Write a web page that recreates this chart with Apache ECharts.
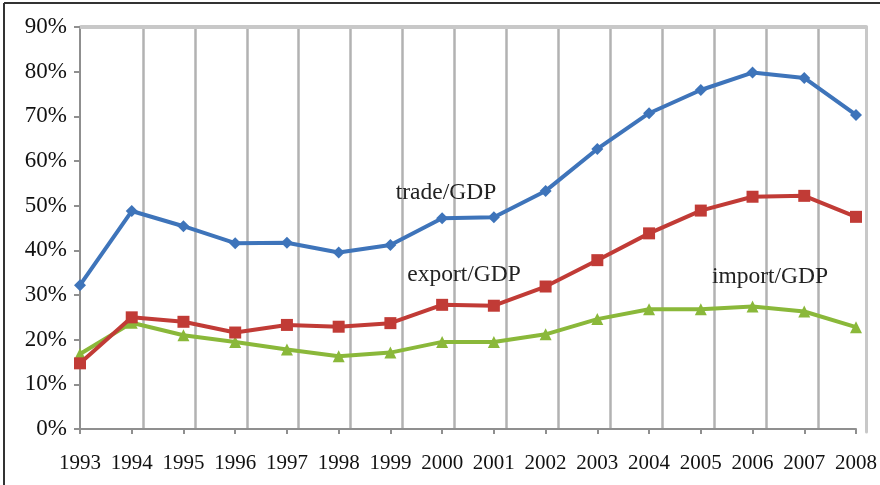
<!DOCTYPE html>
<html>
<head>
<meta charset="utf-8">
<script src="https://cdn.jsdelivr.net/npm/echarts@6/dist/echarts.min.js"></script>
<style>
html,body{margin:0;padding:0;background:#fff;}
#chart{width:880px;height:485px;}
</style>
</head>
<body>
<div id="chart"></div>
<script>
var years = ['1993','1994','1995','1996','1997','1998','1999','2000','2001','2002','2003','2004','2005','2006','2007','2008'];
var tradeGDP  = [32.2, 48.8, 45.4, 41.6, 41.7, 39.5, 41.2, 47.2, 47.4, 53.3, 62.7, 70.7, 75.9, 79.8, 78.6, 70.3];
var exportGDP = [14.7, 25.0, 24.0, 21.6, 23.3, 22.9, 23.7, 27.8, 27.6, 31.9, 37.8, 43.8, 48.9, 52.0, 52.2, 47.5];
var importGDP = [16.8, 23.8, 21.0, 19.5, 17.8, 16.3, 17.1, 19.5, 19.5, 21.2, 24.6, 26.8, 26.8, 27.4, 26.3, 22.8];
var yTicks = { min: 0, max: 90, interval: 10 };
var seriesNames = ['trade/GDP', 'export/GDP', 'import/GDP'];

var serif = 'Liberation Serif, Times New Roman, serif';
var chart = echarts.init(document.getElementById('chart'), null, { renderer: 'canvas' });
var axisGray = '#8f8f8f';

chart.setOption({
  backgroundColor: '#ffffff',
  animation: false,
  grid: [
    { left: 80, right: 20, top: 27, bottom: 56 },
    { left: 91, right: 10, top: 29, bottom: 56 },
    { left: 81, right: 14, top: 27, bottom: 53 }
  ],
  xAxis: [
    {
      gridIndex: 0, type: 'category', data: years, boundaryGap: false,
      axisLine: { lineStyle: { color: axisGray, width: 2 } },
      axisTick: { show: true, length: 5, alignWithLabel: true, lineStyle: { color: axisGray, width: 2 } },
      axisLabel: { fontFamily: serif, fontSize: 21, color: '#111', margin: 24, interval: 0 },
      splitLine: { show: false }
    },
    {
      gridIndex: 1, type: 'category', data: years, boundaryGap: false,
      axisLine: { show: false }, axisTick: { show: false }, axisLabel: { show: false },
      splitLine: {
        show: true,
        interval: function (index) { return index > 0 && index < years.length - 1; },
        lineStyle: { color: '#b2b2b2', width: 2.5 }
      }
    },
    {
      gridIndex: 2, type: 'category', data: years, position: 'top',
      axisLine: { onZero: false, lineStyle: { color: '#c8c8c8', width: 4 } },
      axisTick: { show: false }, axisLabel: { show: false }, splitLine: { show: false }
    }
  ],
  yAxis: [
    {
      gridIndex: 0, type: 'value', min: yTicks.min, max: yTicks.max, interval: yTicks.interval,
      axisLine: { show: true, lineStyle: { color: axisGray, width: 2 } },
      axisTick: { show: true, length: 6, lineStyle: { color: axisGray, width: 2 } },
      axisLabel: { formatter: '{value}%', fontFamily: serif, fontSize: 23, color: '#111', margin: 13 },
      splitLine: { show: false }
    },
    {
      gridIndex: 1, type: 'value', min: 0, max: 1,
      axisLine: { show: false }, axisTick: { show: false }, axisLabel: { show: false }, splitLine: { show: false }
    },
    {
      gridIndex: 2, type: 'value', min: 0, max: 1, position: 'right',
      axisLine: { show: true, onZero: false, lineStyle: { color: '#c8c8c8', width: 3 } },
      axisTick: { show: false }, axisLabel: { show: false }, splitLine: { show: false }
    }
  ],
  series: [
    {
      name: seriesNames[0], type: 'line', data: tradeGDP, xAxisIndex: 0, yAxisIndex: 0,
      symbol: 'diamond', symbolSize: 12, z: 5,
      itemStyle: { color: '#3e74ba' }, lineStyle: { color: '#3e74ba', width: 4 }
    },
    {
      name: seriesNames[1], type: 'line', data: exportGDP, xAxisIndex: 0, yAxisIndex: 0,
      symbol: 'rect', symbolSize: 12, z: 4,
      itemStyle: { color: '#c13b36' }, lineStyle: { color: '#c13b36', width: 4 }
    },
    {
      name: seriesNames[2], type: 'line', data: importGDP, xAxisIndex: 0, yAxisIndex: 0,
      symbol: 'triangle', symbolSize: 12, z: 3,
      itemStyle: { color: '#8ab83a' }, lineStyle: { color: '#8ab83a', width: 4 }
    }
  ],
  graphic: [
    { type: 'line', shape: { x1: 4, y1: 3, x2: 880, y2: 3 }, style: { stroke: '#333', lineWidth: 2 } },
    { type: 'line', shape: { x1: 4, y1: 3, x2: 4, y2: 485 }, style: { stroke: '#333', lineWidth: 2 } },
    { type: 'text', z: 100, x: 446, y: 193, style: { text: seriesNames[0], font: '23.5px ' + serif, fill: '#222', textAlign: 'center', textVerticalAlign: 'middle' } },
    { type: 'text', z: 100, x: 464, y: 275, style: { text: seriesNames[1], font: '23.5px ' + serif, fill: '#222', textAlign: 'center', textVerticalAlign: 'middle' } },
    { type: 'text', z: 100, x: 770, y: 277, style: { text: seriesNames[2], font: '23.5px ' + serif, fill: '#222', textAlign: 'center', textVerticalAlign: 'middle' } }
  ]
});
</script>
</body>
</html>
